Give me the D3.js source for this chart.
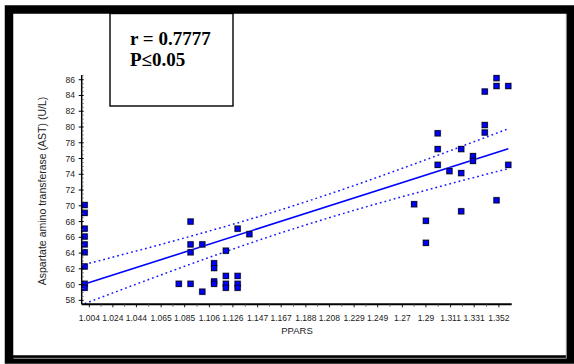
<!DOCTYPE html>
<html>
<head>
<meta charset="utf-8">
<script src="https://cdn.jsdelivr.net/npm/d3@7/dist/d3.min.js"></script>
<style>
  html, body { margin: 0; padding: 0; background: #fff; }
  svg { display: block; }
</style>
</head>
<body>
<svg id="chart" width="574" height="364"></svg>
<script>
// PPARS (x) and AST in U/L (y) for each subject
const ppars = [
  1.00, 1.00, 1.00, 1.00, 1.00, 1.00, 1.00, 1.00, 1.00,
  1.08,
  1.09, 1.09, 1.09, 1.09,
  1.10, 1.10,
  1.11, 1.11, 1.11, 1.11,
  1.12, 1.12, 1.12, 1.12,
  1.13, 1.13, 1.13, 1.13,
  1.14,
  1.28,
  1.29, 1.29,
  1.30, 1.30, 1.30,
  1.31,
  1.32, 1.32, 1.32,
  1.33, 1.33,
  1.34, 1.34, 1.34,
  1.35, 1.35, 1.35,
  1.36, 1.36
];
const ast = [
  70.1, 69.1, 67.1, 66.1, 65.1, 64.1, 62.3, 60.1, 59.6,
  60.1,
  60.1, 68.0, 65.1, 64.1,
  65.1, 59.1,
  62.7, 62.1, 60.4, 60.1,
  64.3, 61.1, 60.1, 59.6,
  67.1, 61.1, 60.1, 59.6,
  66.4,
  70.2,
  68.1, 65.3,
  79.2, 77.2, 75.2,
  74.4,
  77.2, 74.15, 69.3,
  76.3, 75.7,
  84.5, 80.25, 79.3,
  86.2, 85.2, 70.7,
  85.2, 75.2
];

const xTickLabels = ["1.004", "1.024", "1.044", "1.065", "1.085", "1.106", "1.126", "1.147", "1.167",
                     "1.188", "1.208", "1.229", "1.249", "1.27", "1.29", "1.311", "1.331", "1.352"];
const yTickValues = [58, 60, 62, 64, 66, 68, 70, 72, 74, 76, 78, 80, 82, 84, 86];
const statText = ["r = 0.7777", "P\u22640.05"];
const xTitle = "PPARS";
const yTitle = "Aspartate amino transferase (AST) (U/L)";

const svg = d3.select("#chart");
const W = 574, H = 364;

// outer frame
svg.append("rect").attr("x", 0).attr("y", 0).attr("width", W).attr("height", H).attr("fill", "#fff");
svg.append("rect").attr("x", 9).attr("y", 9.5).attr("width", 561.5).attr("height", 350)
  .attr("fill", "none").attr("stroke", "#000").attr("stroke-width", 8.5);
svg.append("path").attr("d", "M13.5,358.3H566.3V14").attr("fill", "none")
  .attr("stroke", "#9a9a9a").attr("stroke-width", 1);

const x = d3.scaleLinear().domain([0.9975, 1.3629]).range([81.7, 511.7]);
const y = d3.scaleLinear().domain([57.5, 86.6]).range([304.3, 75]);

// least-squares line with 95% confidence band
const n = ppars.length;
const mx = d3.mean(ppars), my = d3.mean(ast);
let sxx = 0, sxy = 0;
for (let i = 0; i < n; i++) {
  sxx += (ppars[i] - mx) ** 2;
  sxy += (ppars[i] - mx) * (ast[i] - my);
}
const slope = sxy / sxx, icpt = my - slope * mx;
let sse = 0;
for (let i = 0; i < n; i++) sse += (ast[i] - (icpt + slope * ppars[i])) ** 2;
const se = Math.sqrt(sse / (n - 2));
const tCrit = 2.012;
const xLo = d3.min(ppars), xHi = d3.max(ppars);
const grid = d3.range(0, 41).map(k => xLo + (xHi - xLo) * k / 40);
const half = v => tCrit * se * Math.sqrt(1 / n + (v - mx) ** 2 / sxx);

const line = d3.line().x(d => x(d[0])).y(d => y(d[1]));
const plot = svg.append("g");

plot.append("path")
  .attr("d", line(grid.map(v => [v, icpt + slope * v + half(v)])))
  .attr("fill", "none").attr("stroke", "#1a1aff").attr("stroke-width", 1.5)
  .attr("stroke-dasharray", "1.8,3");
plot.append("path")
  .attr("d", line(grid.map(v => [v, icpt + slope * v - half(v)])))
  .attr("fill", "none").attr("stroke", "#1a1aff").attr("stroke-width", 1.5)
  .attr("stroke-dasharray", "1.8,3");
plot.append("path")
  .attr("d", line([[xLo, icpt + slope * xLo], [xHi, icpt + slope * xHi]]))
  .attr("fill", "none").attr("stroke", "#0000ff").attr("stroke-width", 1.6);

// markers
const pts = ppars.map((v, i) => [v, ast[i]]);
plot.selectAll("rect.sh").data(pts).join("rect").attr("class", "sh")
  .attr("x", d => x(d[0]) - 3.5).attr("y", d => y(d[1]) - 3.5)
  .attr("width", 7).attr("height", 7).attr("fill", "#8c8c8c").attr("opacity", 0.7);
plot.selectAll("rect.pt").data(pts).join("rect").attr("class", "pt")
  .attr("x", d => x(d[0]) - 2.6).attr("y", d => y(d[1]) - 2.6)
  .attr("width", 5.2).attr("height", 5.2)
  .attr("fill", "#0000ff").attr("stroke", "#000033").attr("stroke-width", 0.9);

// y axis
const yAxis = svg.append("g");
yAxis.append("line").attr("x1", x.range()[0]).attr("x2", x.range()[0])
  .attr("y1", y.range()[1]).attr("y2", y.range()[0]).attr("stroke", "#000").attr("stroke-width", 1.5);
const yMinor = d3.range(58, 86.51, 0.5).filter(v => v % 2 !== 0);
yAxis.selectAll("line.mn").data(yMinor).join("line").attr("class", "mn")
  .attr("x1", x.range()[0]).attr("x2", x.range()[0] + 2)
  .attr("y1", d => y(d)).attr("y2", d => y(d)).attr("stroke", "#555").attr("stroke-width", 0.8);
yAxis.selectAll("line.mj").data(yTickValues).join("line").attr("class", "mj")
  .attr("x1", x.range()[0] - 3).attr("x2", x.range()[0] + 2)
  .attr("y1", d => y(d)).attr("y2", d => y(d)).attr("stroke", "#000").attr("stroke-width", 1);
yAxis.selectAll("text").data(yTickValues).join("text")
  .attr("x", 75).attr("y", d => y(d)).attr("dy", "0.35em")
  .attr("text-anchor", "end").attr("font-family", "Liberation Sans, Arial, sans-serif")
  .attr("font-size", 8.5).attr("fill", "#222").text(d => d);

// x axis
const xAxis = svg.append("g");
const xTickVals = xTickLabels.map(Number);
xAxis.append("line").attr("x1", x.range()[0]).attr("x2", x.range()[1])
  .attr("y1", y.range()[0]).attr("y2", y.range()[0]).attr("stroke", "#000").attr("stroke-width", 2);
const xMinor = xTickVals.slice(0, -1).map((v, i) => (v + xTickVals[i + 1]) / 2);
xAxis.selectAll("line.mn").data(xMinor).join("line").attr("class", "mn")
  .attr("x1", d => x(d)).attr("x2", d => x(d))
  .attr("y1", y.range()[0]).attr("y2", y.range()[0] + 2.5).attr("stroke", "#555").attr("stroke-width", 0.8);
xAxis.selectAll("line.mj").data(xTickVals).join("line").attr("class", "mj")
  .attr("x1", d => x(d)).attr("x2", d => x(d))
  .attr("y1", y.range()[0]).attr("y2", y.range()[0] + 3).attr("stroke", "#000").attr("stroke-width", 0.9);
xAxis.selectAll("text").data(xTickLabels).join("text")
  .attr("x", d => x(+d)).attr("y", 321)
  .attr("text-anchor", "middle").attr("font-family", "Liberation Sans, Arial, sans-serif")
  .attr("font-size", 8.5).attr("fill", "#222").text(d => d);

// axis titles
svg.append("text").attr("x", 297).attr("y", 334).attr("text-anchor", "middle")
  .attr("font-family", "Liberation Sans, Arial, sans-serif").attr("font-size", 9.5)
  .attr("fill", "#222").text(xTitle);
svg.append("text").attr("transform", "translate(45.5,191) rotate(-90)").attr("text-anchor", "middle")
  .attr("font-family", "Liberation Sans, Arial, sans-serif").attr("font-size", 10.5)
  .attr("fill", "#222").text(yTitle);

// statistics box
svg.append("rect").attr("x", 110).attr("y", 13.5).attr("width", 123).attr("height", 92.5)
  .attr("fill", "#fff").attr("stroke", "#000").attr("stroke-width", 1.4);
svg.selectAll("text.stat").data(statText).join("text").attr("class", "stat")
  .attr("x", 130).attr("y", (d, i) => 45 + i * 21)
  .attr("font-family", "Liberation Serif, 'Times New Roman', serif").attr("font-weight", "bold")
  .attr("font-size", 19).attr("fill", "#000").text(d => d);
</script>
</body>
</html>
